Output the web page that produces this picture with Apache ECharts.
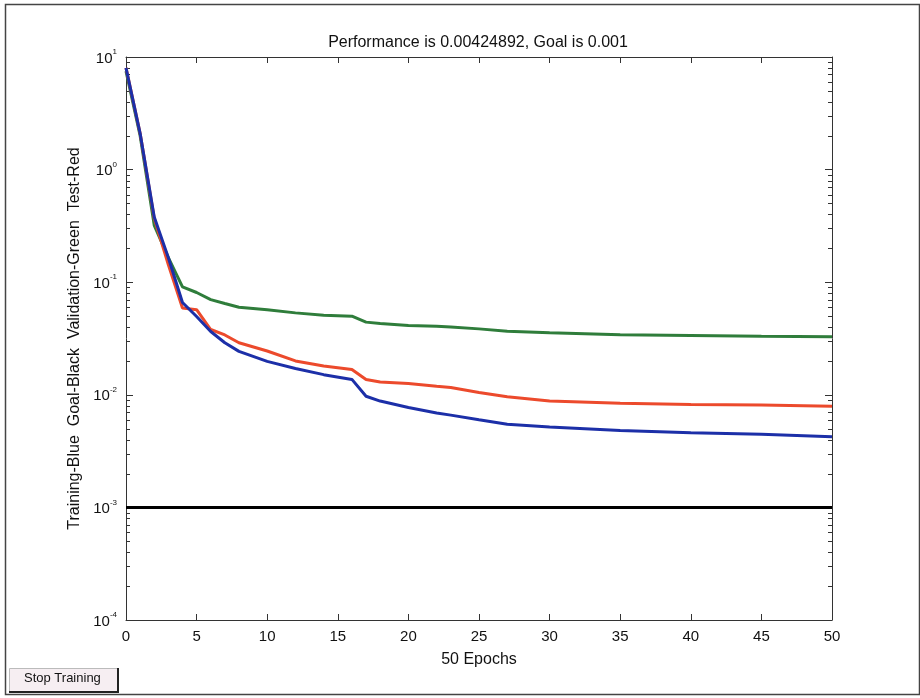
<!DOCTYPE html>
<html>
<head>
<meta charset="utf-8">
<script src="https://cdn.jsdelivr.net/npm/echarts@6/dist/echarts.min.js"></script>
<style>
html,body{margin:0;padding:0;background:#fff;}
#chart{width:920px;height:698px;}
</style>
</head>
<body>
<div id="chart"></div>
<script>
// ---- data ----
const epochs = [0,1,2,3,4,5,6,7,8,10,12,14,16,17,18,20,22,23,25,27,30,35,40,45,50];
const training = [8.0,2.1,0.38,0.165,0.066,0.0496,0.0365,0.029,0.0243,0.0198,0.0171,0.0151,0.0137,0.0097,0.0088,0.0077,0.0069,0.0066,0.0060,0.00547,0.00518,0.00483,0.00461,0.00446,0.00425];
const validation = [7.5,2.0,0.32,0.165,0.091,0.081,0.070,0.0646,0.060,0.057,0.0534,0.0509,0.0499,0.0442,0.043,0.0412,0.0406,0.040,0.0385,0.0367,0.0355,0.0341,0.0336,0.0331,0.0327];
const test = [8.0,2.1,0.37,0.143,0.059,0.057,0.038,0.034,0.029,0.0245,0.020,0.018,0.0168,0.0137,0.013,0.0126,0.0119,0.0116,0.0105,0.0096,0.0088,0.0084,0.0082,0.0081,0.0079];
const goalValue = 0.001;
const goalEpochs = [0, 50];
const yDecades = [-4,-3,-2,-1,0,1];
const titleText = 'Performance is 0.00424892, Goal is 0.001';
const yName = 'Training-Blue  Goal-Black  Validation-Green  Test-Red';
const xName = '50 Epochs';
const buttonText = 'Stop Training';

// minor tick values (axis decoration)
const minorVals = [];
for (let i = 0; i < yDecades.length - 1; i++) {
  for (let m = 2; m <= 9; m++) minorVals.push(m * Math.pow(10, yDecades[i]));
}

const pair = (xs, ys) => xs.map((x, i) => [x, ys[i]]);
const FONT = '"Liberation Sans", Arial, sans-serif';
const axisColor = '#333';

const chart = echarts.init(document.getElementById('chart'), null, {renderer: 'canvas'});

const option = {
  backgroundColor: '#fff',
  animation: false,
  title: {
    text: titleText,
    left: 473, top: 30, textAlign: 'center',
    textStyle: {fontFamily: FONT, fontSize: 16, fontWeight: 'normal', color: '#111'}
  },
  grid: {left: 126, top: 57, width: 706, height: 563, containLabel: false},
  xAxis: [{
    type: 'value', min: 0, max: 50, interval: 5,
    name: xName, nameLocation: 'middle', nameGap: 32,
    nameTextStyle: {fontFamily: FONT, fontSize: 16, color: '#111'},
    axisLine: {show: true, onZero: false, lineStyle: {color: axisColor, width: 1}},
    axisTick: {show: true, inside: true, length: 6, lineStyle: {color: axisColor}},
    axisLabel: {fontFamily: FONT, fontSize: 15, color: '#111', margin: 9},
    splitLine: {show: false}
  }, {
    type: 'value', min: 0, max: 50, interval: 5, position: 'top',
    axisLine: {show: true, onZero: false, lineStyle: {color: axisColor, width: 1}},
    axisTick: {show: true, inside: true, length: 6, lineStyle: {color: axisColor}},
    axisLabel: {show: false},
    splitLine: {show: false}
  }],
  yAxis: [{
    type: 'log', logBase: 10, min: 1e-4, max: 10,
    name: yName, nameLocation: 'middle', nameGap: 41, nameRotate: 90,
    nameTextStyle: {fontFamily: FONT, fontSize: 16, color: '#111'},
    axisLine: {show: true, onZero: false, lineStyle: {color: axisColor, width: 1}},
    axisTick: {show: true, inside: true, length: 7, lineStyle: {color: axisColor}},
    axisLabel: {
      margin: 9,
      formatter: function (v) {
        const e = Math.round(Math.log10(v));
        return '{b|10}{e|' + e + '}';
      },
      rich: {
        b: {fontFamily: FONT, fontSize: 15, color: '#111', verticalAlign: 'bottom', lineHeight: 16},
        e: {fontFamily: FONT, fontSize: 8, color: '#111', verticalAlign: 'top', lineHeight: 18}
      }
    },
    splitLine: {show: false}
  }, {
    type: 'log', logBase: 10, min: 1e-4, max: 10, position: 'right',
    axisLine: {show: true, onZero: false, lineStyle: {color: axisColor, width: 1}},
    axisTick: {show: true, inside: true, length: 7, lineStyle: {color: axisColor}},
    axisLabel: {show: false},
    splitLine: {show: false}
  }],
  series: [
    {
      type: 'custom', name: 'minorTicks', silent: true, clip: false, z: 1,
      data: minorVals.map(v => [0, v]),
      renderItem: function (params, api) {
        const cs = params.coordSys;
        const p = api.coord([0, api.value(1)]);
        const y = Math.round(p[1]) + 0.5;
        return {
          type: 'group',
          children: [
            {type: 'line', shape: {x1: cs.x, y1: y, x2: cs.x + 4, y2: y}, style: {stroke: axisColor, lineWidth: 1}},
            {type: 'line', shape: {x1: cs.x + cs.width - 4, y1: y, x2: cs.x + cs.width, y2: y}, style: {stroke: axisColor, lineWidth: 1}}
          ]
        };
      }
    },
    {name: 'Validation', type: 'line', data: pair(epochs, validation), showSymbol: false, lineStyle: {color: '#2f7d3b', width: 3}, itemStyle: {color: '#2f7d3b'}, z: 3},
    {name: 'Test', type: 'line', data: pair(epochs, test), showSymbol: false, lineStyle: {color: '#ec4a2c', width: 3}, itemStyle: {color: '#ec4a2c'}, z: 4},
    {name: 'Goal', type: 'line', data: goalEpochs.map(x => [x, goalValue]), showSymbol: false, lineStyle: {color: '#000', width: 3}, itemStyle: {color: '#000'}, z: 5},
    {name: 'Training', type: 'line', data: pair(epochs, training), showSymbol: false, lineStyle: {color: '#1c2fa8', width: 3}, itemStyle: {color: '#1c2fa8'}, z: 6}
  ],
  graphic: [
    {type: 'rect', left: 3, top: 2, shape: {x: 0, y: 0, width: 914, height: 690}, style: {fill: 'none', stroke: '#444', lineWidth: 1.5}, silent: true},
    {type: 'rect', left: 9, top: 668, shape: {x: 0, y: 0, width: 109, height: 24}, style: {fill: '#f6eef2', stroke: '#bbb', lineWidth: 1}, silent: true},
    {type: 'polyline', shape: {points: [[9, 692], [118, 692], [118, 668]]}, style: {stroke: '#222', lineWidth: 2, fill: 'none'}, silent: true},
    {type: 'text', left: 24, top: 672, style: {text: buttonText, fontFamily: FONT, fontSize: 13, fill: '#111'}, silent: true}
  ]
};
chart.setOption(option);
</script>
</body>
</html>
